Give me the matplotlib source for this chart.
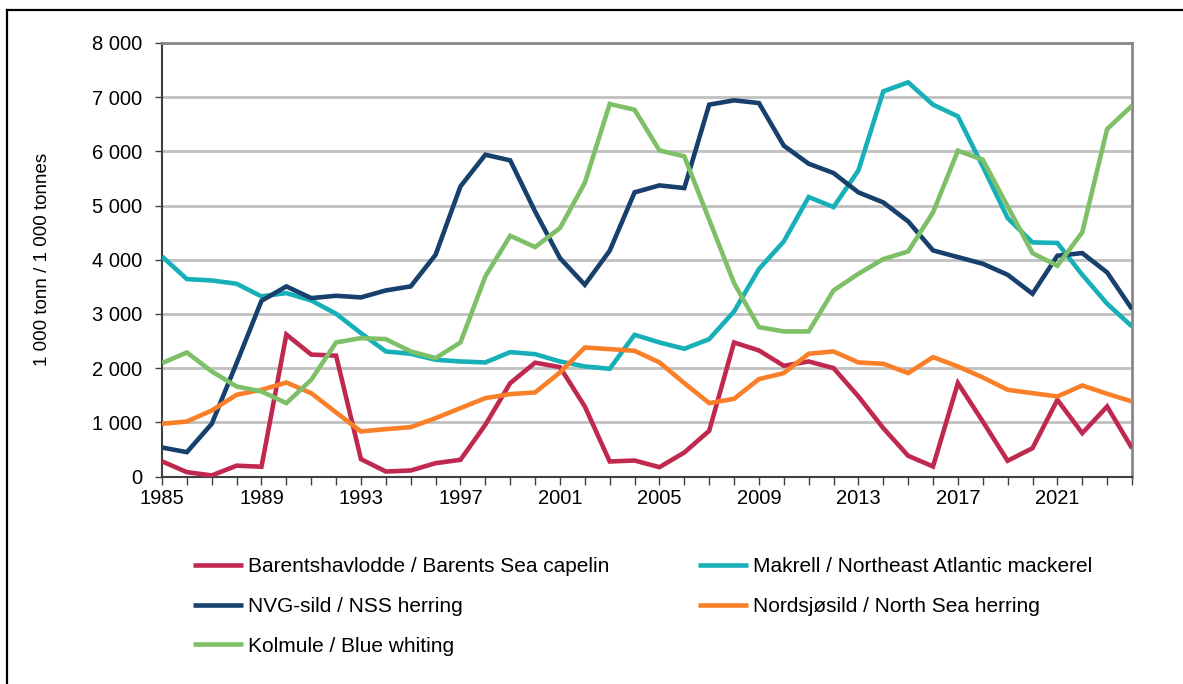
import matplotlib
matplotlib.use("Agg")
import matplotlib.pyplot as plt
from matplotlib.lines import Line2D

plt.rcParams['font.family'] = ['Liberation Sans', 'DejaVu Sans']

years = list(range(1985, 2025))

capelin = [280, 80, 20, 200, 180, 2620, 2250, 2230, 320, 92, 111, 246, 308, 954,
           1723, 2100, 2018, 1292, 277, 295, 172, 443, 843, 2474, 2326, 2043,
           2123, 2000, 1477, 892, 382, 185, 1723, 1015, 290, 523, 1415, 800,
           1292, 523]
mackerel = [4062, 3643, 3618, 3557, 3323, 3385, 3249, 3003, 2646, 2308, 2265,
            2154, 2123, 2105, 2295, 2258, 2123, 2031, 1988, 2615, 2474, 2357,
            2535, 3046, 3828, 4338, 5157, 4972, 5649, 7108, 7274, 6862, 6646,
            5723, 4769, 4320, 4310, 3723, 3188, 2769]
nss_herring = [535, 449, 972, 2092, 3243, 3508, 3292, 3335, 3305, 3434, 3508,
               4092, 5354, 5938, 5834, 4892, 4031, 3538, 4166, 5243, 5372, 5323,
               6862, 6942, 6892, 6105, 5772, 5600, 5243, 5058, 4708, 4172, 4049,
               3926, 3723, 3372, 4074, 4123, 3766, 3089]
ns_herring = [972, 1015, 1218, 1508, 1600, 1735, 1538, 1182, 831, 874, 911, 1077,
              1262, 1446, 1520, 1551, 1920, 2380, 2351, 2320, 2105, 1723, 1354,
              1434, 1797, 1908, 2265, 2308, 2105, 2080, 1908, 2203, 2031, 1828,
              1600, 1538, 1477, 1680, 1526, 1385]
blue_whiting = [2092, 2289, 1938, 1662, 1569, 1354, 1785, 2474, 2554, 2535, 2308,
                2185, 2474, 3692, 4443, 4234, 4585, 5420, 6874, 6769, 6018, 5908,
                4738, 3569, 2757, 2677, 2677, 3434, 3741, 4012, 4154, 4874, 6012,
                5846, 4985, 4123, 3889, 4505, 6412, 6843]

labels = ["Barentshavlodde / Barents Sea capelin",
          "Makrell / Northeast Atlantic mackerel",
          "NVG-sild / NSS herring",
          "Nordsjøsild / North Sea herring",
          "Kolmule / Blue whiting"]
colors = ["#C0294F", "#17B0B8", "#17406D", "#F98029", "#7DC068"]
series = [capelin, mackerel, nss_herring, ns_herring, blue_whiting]

W, H = 1183, 684
fig = plt.figure(figsize=(W / 100, H / 100), dpi=100)
ax = fig.add_axes([162 / W, 1 - 476.5 / H, (1132 - 162) / W, (476.5 - 43) / H])

lines = []
for vals, col, lab in zip(series, colors, labels):
    ln, = ax.plot(years, vals, color=col, lw=3.3, label=lab, solid_joinstyle='miter',
                  solid_capstyle='butt', zorder=3)
    lines.append(ln)

ax.set_xlim(1985, 2024)
ax.set_ylim(0, 8000)
ax.set_yticks(range(0, 8001, 1000))
ax.set_yticklabels([f"{v:,}".replace(",", " ") for v in range(0, 8001, 1000)])
ax.set_xticks(years, minor=True)
ax.set_xticks(list(range(1985, 2025, 4)))
ax.tick_params(axis='both', labelsize=14.5, colors='black')
ax.tick_params(axis='x', which='both', direction='out', length=6, width=1, color='#404040', pad=3)
ax.tick_params(axis='y', direction='out', length=5, width=1, color='#404040', pad=9)
ax.grid(axis='y', color='#C0C0C0', lw=2.0, zorder=0)
ax.set_axisbelow(True)
for s in ['left', 'bottom']:
    ax.spines[s].set_color('#404040')
    ax.spines[s].set_linewidth(1.5)
for s in ['top', 'right']:
    ax.spines[s].set_color('#888888')
    ax.spines[s].set_linewidth(2.0)
ax.set_ylabel("1 000 tonn / 1 000 tonnes", fontsize=13.5, labelpad=30)

order = [0, 2, 4, 1, 3]
leg = fig.legend([lines[i] for i in order], [labels[i] for i in order],
                 ncol=2, loc='upper left', bbox_to_anchor=(193 / W, 1 - 557 / H),
                 frameon=False, fontsize=15, handlelength=2.4, handletextpad=0.25,
                 labelspacing=1.0, columnspacing=4.25, borderaxespad=0, borderpad=0)

# outer frame lines (top and left)
fig.add_artist(Line2D([7 / W, 1], [1 - 10 / H, 1 - 10 / H], transform=fig.transFigure,
                      color='black', lw=1.6))
fig.add_artist(Line2D([7 / W, 7 / W], [0, 1 - 10 / H], transform=fig.transFigure,
                      color='black', lw=1.6))

fig.savefig("out.png", dpi=100, facecolor='white')
